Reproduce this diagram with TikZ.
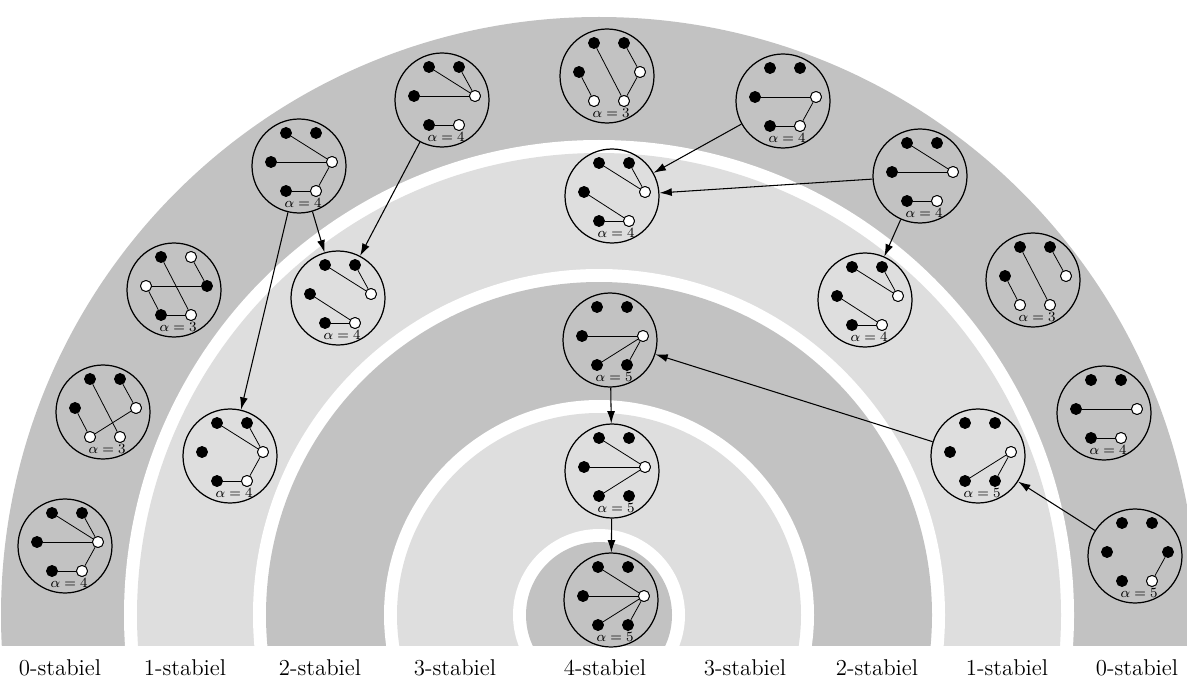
\documentclass[tikz,border=0pt]{standalone}
\usepackage{amsmath, amssymb}
\usepackage{tikz}
\usetikzlibrary{arrows.meta}

\definecolor{darkband}{gray}{0.76}
\definecolor{lightband}{gray}{0.87}

% #1 name, #2 centre, #3 alpha, #4 white vertices, #5 edges
\newcommand{\hexgraph}[5]{%
	\node[graphcircle] (#1) at (#2) {};
	\begin{scope}[shift={(#2)}]
		\node[vtx] (#1-a) at (-13,33) {};
		\node[vtx] (#1-b) at (17,33) {};
		\node[vtx] (#1-c) at (-28,4) {};
		\node[vtx] (#1-d) at (33,4) {};
		\node[vtx] (#1-e) at (-13,-25) {};
		\node[vtx] (#1-f) at (17,-25) {};
		\node[alphalabel] (#1-lab) at (4,-37) {$\alpha = #3$};
	\end{scope}
	\foreach \vx in {#4} \node[vtx, fill=white] at (#1-\vx) {};
	\foreach \vx/\vy in {#5} \draw[gedge] (#1-\vx) -- (#1-\vy);
}

\begin{document}
\begin{tikzpicture}[x=0.02cm, y=0.02cm,
		graphcircle/.style={circle, draw, line width=0.7pt, minimum size=1.88cm, inner sep=0pt},
		vtx/.style={circle, draw, fill=black, line width=0.5pt, minimum size=0.22cm, inner sep=0pt},
		gedge/.style={line width=0.45pt},
		alphalabel/.style={font=\footnotesize, inner sep=0pt},
		arr/.style={-{Latex[length=7pt,width=4.5pt]}, line width=0.6pt},
		stablabel/.style={font=\fontsize{13}{15}\selectfont}]
		\useasboundingbox (0,0) rectangle (1187,684);
		
		% bands
		\coordinate (centre) at (599,69);
		\begin{scope}
			\clip (0,39) rectangle (1187,684);
			\foreach \r/\c in {598/darkband, 475/white, 462/lightband, 346/white, 333/darkband,
				215/white, 202/lightband, 86/white, 73/darkband}
				\fill[\c] (centre) circle[radius=\r*0.02cm];
		\end{scope}
		
		\node[stablabel] (lab0l) at (60,16) {0-stabiel};
		\node[stablabel] (lab1l) at (185,16) {1-stabiel};
		\node[stablabel] (lab2l) at (320,16) {2-stabiel};
		\node[stablabel] (lab3l) at (455,16) {3-stabiel};
		\node[stablabel] (lab4) at (605,16) {4-stabiel};
		\node[stablabel] (lab3r) at (745,16) {3-stabiel};
		\node[stablabel] (lab2r) at (877,16) {2-stabiel};
		\node[stablabel] (lab1r) at (1007,16) {1-stabiel};
		\node[stablabel] (lab0r) at (1137,16) {0-stabiel};
		
		% 0-stabiel
		\hexgraph{g1}{65,138}{4}{d,f}{a/d, b/d, c/d, d/f, e/f}
		\hexgraph{g2}{103,272}{3}{d,e,f}{a/f, b/d, c/e, d/e}
		\hexgraph{g3}{174,394}{3}{b,c,f}{a/f, b/d, c/d, c/e, e/f}
		\hexgraph{g4}{299,518}{4}{d,f}{a/d, c/d, d/f, e/f}
		\hexgraph{g5}{442,584}{4}{d,f}{a/d, b/d, c/d, e/f}
		\hexgraph{g6}{607,608}{3}{d,e,f}{a/f, b/d, c/e, d/f}
		\hexgraph{g7}{783,583}{4}{d,f}{c/d, d/f, e/f}
		\hexgraph{g8}{920,508}{4}{d,f}{a/d, c/d, e/f}
		\hexgraph{g9}{1033,404}{3}{d,e,f}{a/f, b/d, c/e}
		\hexgraph{g10}{1104,271}{4}{d,f}{c/d, e/f}
		\hexgraph{g11}{1135,128}{5}{f}{d/f}
		
		% 1-stabiel
		\hexgraph{g12}{612,488}{4}{d,f}{a/d, b/d, c/f, e/f}
		\hexgraph{g13}{230,228}{4}{d,f}{a/d, b/d, d/f, e/f}
		\hexgraph{g14}{338,386}{4}{d,f}{a/d, b/d, c/f, e/f}
		\hexgraph{g15}{865,384}{4}{d,f}{a/d, b/d, c/f, e/f}
		\hexgraph{g16}{978,228}{5}{d}{d/e, d/f}
		
		% 2-, 3- and 4-stabiel
		\hexgraph{g17}{610,344}{5}{d}{c/d, d/e, d/f}
		\hexgraph{g18}{612,213}{5}{d}{a/d, c/d, d/e}
		\hexgraph{g19}{611,84}{5}{d}{a/d, c/d, d/e, d/f}
		
		% arrows
		\draw[arr] (g4) -- (g13);
		\draw[arr] (g4) -- (g14);
		\draw[arr] (g5) -- (g14);
		\draw[arr] (g7) -- (g12);
		\draw[arr] (g8) -- (g12);
		\draw[arr] (g8) -- (g15);
		\draw[arr] (g11) -- (g16);
		\draw[arr] (g16) -- (g17);
		\draw[arr] (g17) -- (g18);
		\draw[arr] (g18) -- (g19);
		
	\end{tikzpicture}
\end{document}
